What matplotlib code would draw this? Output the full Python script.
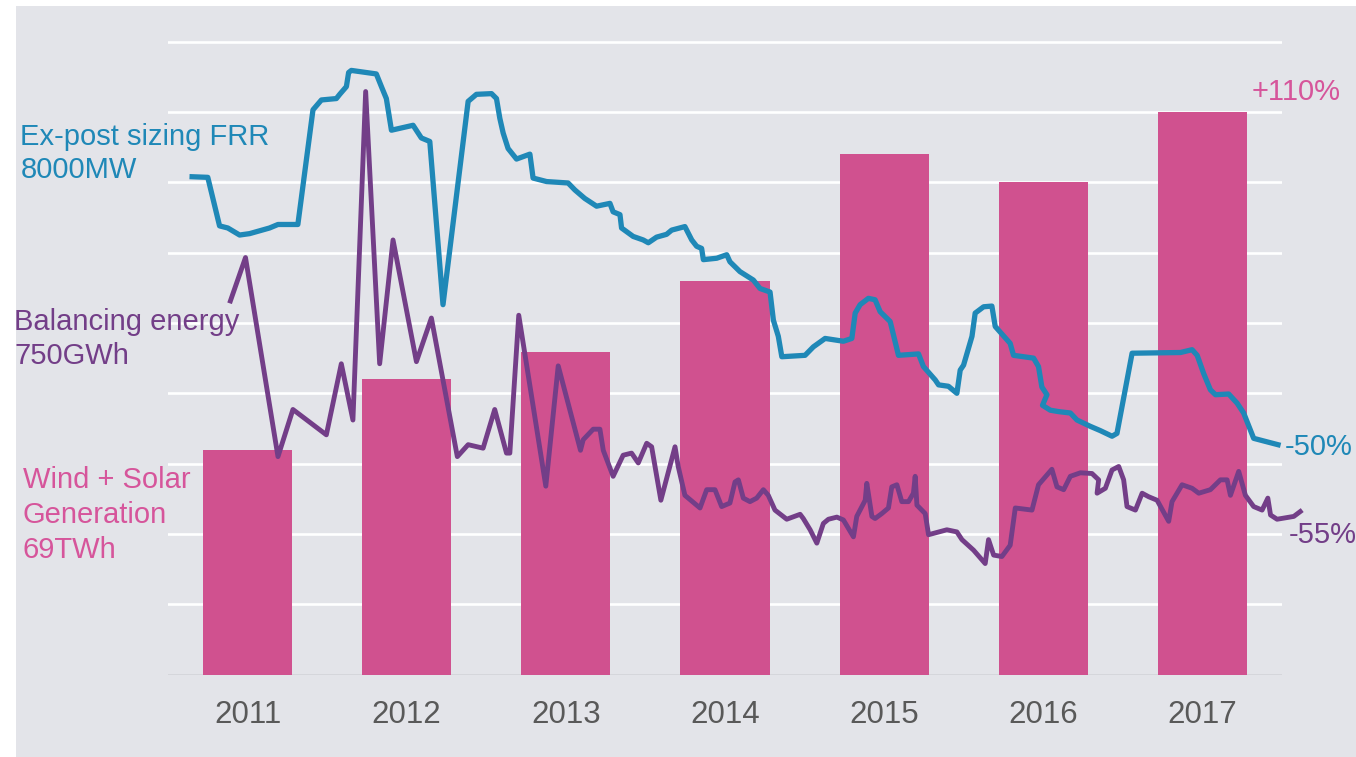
import matplotlib
matplotlib.use("Agg")
import matplotlib.pyplot as plt
from matplotlib.patches import Rectangle

plt.rcParams['font.family'] = ['Liberation Sans', 'DejaVu Sans']

# ---------------- data ----------------
years = [2011, 2012, 2013, 2014, 2015, 2016, 2017]
year_labels = ['2011', '2012', '2013', '2014', '2015', '2016', '2017']
# Wind + Solar generation (index units of the chart grid)
generation = [3.19, 4.20, 4.59, 5.60, 7.40, 7.00, 8.00]

# Ex-post sizing FRR (index units)
frr_x = [2010.635, 2010.750, 2010.824, 2010.876, 2010.950, 2011.013, 2011.138, 2011.191, 2011.316, 2011.411,
         2011.464, 2011.558, 2011.579, 2011.621, 2011.635, 2011.652, 2011.809, 2011.841, 2011.872, 2011.904,
         2012.040, 2012.092, 2012.145, 2012.228, 2012.386, 2012.438, 2012.533, 2012.564, 2012.585, 2012.606,
         2012.637, 2012.690, 2012.774, 2012.794, 2012.879, 2013.014, 2013.057, 2013.119, 2013.193, 2013.277,
         2013.297, 2013.340, 2013.350, 2013.423, 2013.486, 2013.518, 2013.570, 2013.633, 2013.665, 2013.748,
         2013.791, 2013.822, 2013.853, 2013.864, 2013.948, 2014.011, 2014.031, 2014.094, 2014.178, 2014.220,
         2014.283, 2014.304, 2014.335, 2014.357, 2014.503, 2014.555, 2014.629, 2014.744, 2014.797, 2014.818,
         2014.849, 2014.901, 2014.943, 2014.975, 2015.038, 2015.090, 2015.216, 2015.247, 2015.321, 2015.342,
         2015.404, 2015.457, 2015.478, 2015.499, 2015.552, 2015.572, 2015.625, 2015.677, 2015.698, 2015.792,
         2015.813, 2015.939, 2015.970, 2015.991, 2016.023, 2015.995, 2016.044, 2016.096, 2016.170, 2016.212,
         2016.296, 2016.358, 2016.432, 2016.463, 2016.558, 2016.862, 2016.935, 2016.967, 2017.008, 2017.050,
         2017.082, 2017.165, 2017.218, 2017.259, 2017.322, 2017.406, 2017.491]
frr_y = [7.08, 7.07, 6.38, 6.35, 6.25, 6.27, 6.35, 6.40, 6.40, 8.03,
         8.17, 8.19, 8.25, 8.36, 8.56, 8.59, 8.54, 8.36, 8.19, 7.74,
         7.81, 7.63, 7.58, 5.26, 8.15, 8.25, 8.26, 8.19, 7.91, 7.70,
         7.48, 7.33, 7.40, 7.06, 7.01, 6.99, 6.89, 6.77, 6.66, 6.70,
         6.58, 6.54, 6.35, 6.23, 6.18, 6.14, 6.22, 6.26, 6.32, 6.37,
         6.18, 6.09, 6.06, 5.90, 5.92, 5.97, 5.87, 5.73, 5.61, 5.49,
         5.44, 5.04, 4.81, 4.52, 4.54, 4.66, 4.78, 4.74, 4.78, 5.14,
         5.26, 5.35, 5.33, 5.16, 5.02, 4.54, 4.56, 4.38, 4.19, 4.12,
         4.10, 4.00, 4.33, 4.40, 4.81, 5.14, 5.23, 5.24, 4.95, 4.71,
         4.54, 4.50, 4.38, 4.09, 3.98, 3.83, 3.76, 3.74, 3.72, 3.62,
         3.53, 3.47, 3.39, 3.43, 4.57, 4.58, 4.62, 4.54, 4.28, 4.05,
         3.98, 3.99, 3.86, 3.72, 3.36, 3.31, 3.26]

# Balancing energy (index units)
bal_x = [2010.887, 2010.987, 2011.191, 2011.285, 2011.495, 2011.589, 2011.662, 2011.742, 2011.830, 2011.914,
         2012.061, 2012.155, 2012.318, 2012.386, 2012.480, 2012.553, 2012.627, 2012.648, 2012.704, 2012.874,
         2012.952, 2013.092, 2013.109, 2013.172, 2013.214, 2013.235, 2013.297, 2013.360, 2013.413, 2013.455,
         2013.508, 2013.539, 2013.597, 2013.686, 2013.706, 2013.748, 2013.843, 2013.885, 2013.937, 2013.979,
         2014.031, 2014.063, 2014.084, 2014.115, 2014.157, 2014.199, 2014.241, 2014.272, 2014.314, 2014.388,
         2014.472, 2014.492, 2014.535, 2014.577, 2014.618, 2014.650, 2014.703, 2014.744, 2014.807, 2014.828,
         2014.881, 2014.891, 2014.923, 2014.943, 2014.985, 2015.027, 2015.048, 2015.080, 2015.111, 2015.153,
         2015.184, 2015.195, 2015.206, 2015.258, 2015.279, 2015.394, 2015.457, 2015.489, 2015.562, 2015.635,
         2015.656, 2015.688, 2015.740, 2015.792, 2015.824, 2015.929, 2015.970, 2016.054, 2016.086, 2016.128,
         2016.170, 2016.233, 2016.306, 2016.348, 2016.338, 2016.390, 2016.432, 2016.474, 2016.505, 2016.526,
         2016.579, 2016.621, 2016.662, 2016.715, 2016.788, 2016.809, 2016.872, 2016.935, 2016.977, 2017.050,
         2017.113, 2017.155, 2017.176, 2017.228, 2017.270, 2017.322, 2017.375, 2017.411, 2017.428, 2017.469,
         2017.574, 2017.627]
bal_y = [5.28, 5.93, 3.10, 3.77, 3.41, 4.42, 3.62, 8.29, 4.42, 6.18,
         4.45, 5.07, 3.10, 3.27, 3.22, 3.77, 3.15, 3.15, 5.11, 2.68,
         4.39, 3.19, 3.34, 3.49, 3.49, 3.19, 2.82, 3.12, 3.15, 3.01,
         3.29, 3.24, 2.48, 3.24, 2.96, 2.55, 2.37, 2.63, 2.63, 2.39,
         2.44, 2.74, 2.77, 2.51, 2.46, 2.51, 2.63, 2.55, 2.34, 2.21,
         2.28, 2.22, 2.06, 1.87, 2.15, 2.21, 2.24, 2.20, 1.96, 2.25,
         2.48, 2.72, 2.25, 2.22, 2.29, 2.37, 2.67, 2.70, 2.46, 2.46,
         2.58, 2.82, 2.41, 2.29, 1.99, 2.06, 2.03, 1.92, 1.77, 1.58,
         1.92, 1.70, 1.68, 1.84, 2.37, 2.34, 2.70, 2.92, 2.67, 2.63,
         2.82, 2.87, 2.86, 2.77, 2.58, 2.65, 2.91, 2.96, 2.77, 2.39,
         2.34, 2.58, 2.53, 2.48, 2.18, 2.46, 2.70, 2.65, 2.58, 2.63,
         2.77, 2.77, 2.55, 2.89, 2.55, 2.39, 2.34, 2.51, 2.27, 2.21,
         2.25, 2.34]

# ---------------- style ----------------
BG = '#e3e4e9'
PINK = '#d0518f'
PINK_TXT = '#d6559b'
BLUE = '#1f88b7'
PURPLE = '#733e88'
YEAR_C = '#595959'

W, H = 1356, 757
fig = plt.figure(figsize=(W / 100, H / 100), dpi=100, facecolor='white')
fig.patches.append(Rectangle((16 / W, 0), 1 - 16 / W, 1 - 6 / H, transform=fig.transFigure,
                             facecolor=BG, edgecolor='none', zorder=-10))

ax_left, ax_right, ax_bottom_px, ax_top_px = 168, 1282, 674.7, 6.4
ax = fig.add_axes([ax_left / W, 1 - ax_bottom_px / H, (ax_right - ax_left) / W,
                   (ax_bottom_px - ax_top_px) / H])
ax.set_zorder(5)
ax.set_facecolor('none')
ax.set_xlim(2010.5, 2017.5)
ax.set_ylim(0, 9.5)
for s in ax.spines.values():
    s.set_visible(False)

for v in range(1, 10):
    ax.axhline(v, color='white', lw=1.9, zorder=1)
ax.axhline(0, color='#d3d4d9', lw=1.2, zorder=1)

ax.bar(years, generation, width=0.56, color=PINK, zorder=2)
ax.plot(frr_x, frr_y, color=BLUE, lw=3.8, zorder=3, clip_on=False,
        solid_joinstyle='round', solid_capstyle='butt')
ax.plot(bal_x, bal_y, color=PURPLE, lw=3.5, zorder=4, clip_on=False,
        solid_joinstyle='round', solid_capstyle='butt')

ax.set_yticks([])
ax.set_xticks(years)
ax.set_xticklabels(year_labels, fontsize=22.5, color=YEAR_C)
ax.tick_params(axis='x', length=0, pad=18)


def ftext(px, py, s, color, size=21, ha='left'):
    fig.text(px / W, 1 - py / H, s, color=color, fontsize=size, ha=ha, va='baseline', zorder=6)


ftext(20.5, 145, 'Ex-post sizing FRR', BLUE)
ftext(20.5, 178, '8000MW', BLUE)
ftext(14, 330, 'Balancing energy', PURPLE)
ftext(14, 364, '750GWh', PURPLE)
ftext(23, 488, 'Wind + Solar', PINK_TXT)
ftext(23, 523, 'Generation', PINK_TXT)
ftext(23, 558, '69TWh', PINK_TXT)
ftext(1252, 100, '+110%', PINK_TXT)
ftext(1285, 455, '-50%', BLUE)
ftext(1289, 543, '-55%', PURPLE)

fig.savefig('out.png', dpi=100, facecolor='white')
